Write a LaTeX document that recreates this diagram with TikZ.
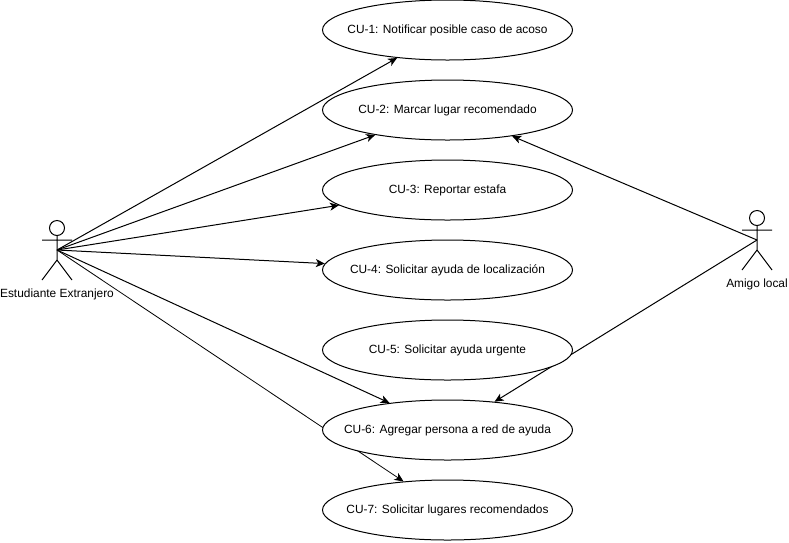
\documentclass[tikz,border=0pt]{standalone}
\usepackage{fontspec}
\setmainfont{Liberation Sans}
\usetikzlibrary{arrows.meta,backgrounds,shapes.geometric}
\newcommand{\cutext}[1]{\makebox[0pt][c]{#1}}
\tikzset{
  usecase/.style={draw=black,fill=white,line width=1pt,ellipse,minimum width=250pt,minimum height=60pt,inner sep=0pt,font=\fontsize{11.9}{14}\selectfont},
  actorline/.style={draw=black,line width=1pt},
  actorlabel/.style={font=\fontsize{11.9}{14}\selectfont,inner sep=0pt},
  assoc/.style={draw=black,line width=1pt,-{Stealth[length=9pt,width=8pt,inset=2.5pt]}}
}
\begin{document}
\begin{tikzpicture}[x=1pt,y=-1pt]
\useasboundingbox (0,0) rectangle (789,542);
\node[usecase] (cu1) at (447.5,30) {\cutext{CU-1: Notificar posible caso de acoso}};
\node[usecase] (cu2) at (447.5,110) {\cutext{CU-2: Marcar lugar recomendado}};
\node[usecase] (cu3) at (447.5,190) {\cutext{CU-3: Reportar estafa}};
\node[usecase] (cu4) at (447.5,270) {\cutext{CU-4: Solicitar ayuda de localización}};
\node[usecase] (cu5) at (447.5,350) {\cutext{CU-5: Solicitar ayuda urgente}};
\node[usecase] (cu6) at (447.5,430) {\cutext{CU-6: Agregar persona a red de ayuda}};
\node[usecase] (cu7) at (447.5,510) {\cutext{CU-7: Solicitar lugares recomendados}};
\coordinate (est) at (57,250);
\coordinate (ami) at (757,240);
\node[actorlabel] (estlabel) at (57,294) {Estudiante Extranjero};
\node[actorlabel] (amilabel) at (757,284) {Amigo local};
\begin{scope}[shift={(est)}]
  \draw[actorline] (0,-22) circle[radius=7.5];
  \draw[actorline] (0,-15) -- (0,10) (-15,-10) -- (15,-10) (-15,30) -- (0,10) -- (15,30);
\end{scope}
\begin{scope}[shift={(ami)}]
  \draw[actorline] (0,-22) circle[radius=7.5];
  \draw[actorline] (0,-15) -- (0,10) (-15,-10) -- (15,-10) (-15,30) -- (0,10) -- (15,30);
\end{scope}
\begin{pgfonlayer}{background}
  \draw[assoc] (est) -- (cu1.209.5);
  \draw[assoc] (est) -- (cu2.199.5);
  \draw[assoc] (est) -- (cu3.188.8);
  \draw[assoc] (est) -- (cu4.177.7);
  \draw[assoc] (est) -- (cu6.155.2);
  \draw[assoc,line width=0.8pt] (est) -- (cu7.147.6);
  \draw[assoc] (ami) -- (cu2.-22.6);
  \draw[assoc] (ami) -- (cu6.31.6);
\end{pgfonlayer}
\end{tikzpicture}
\end{document}
